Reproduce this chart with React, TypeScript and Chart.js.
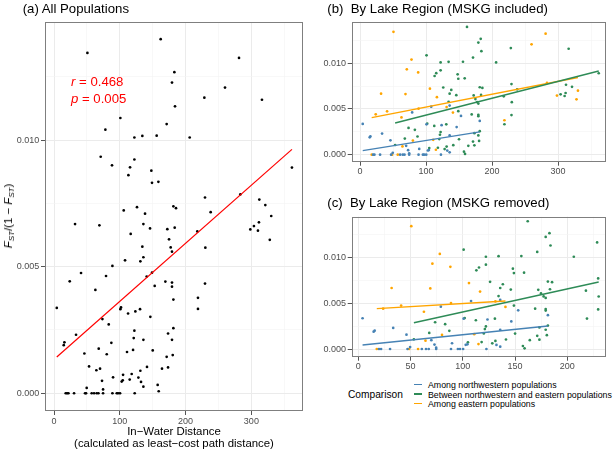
import React, { useEffect, useRef } from "react";
import { Chart, registerables } from "chart.js";
Chart.register(...registerables);

type Pt = [number, number];

// ---------------- data: [in-water distance, FST/(1-FST)] ----------------
const nwPoints: Pt[] = [
  [19.8, 0], [21.8, 0], [30.4, 0], [47.1, 0], [60.8, 0], [64.8, 0], [67.4, 0], [74.5, 0],
  [88.7, 0], [95.3, 0], [97.3, 0], [100.3, 0], [122.6, 0], [74.5, 0.00015], [49.6, 0.00021],
  [4.1, 0.00337], [14.7, 0.0019], [15.7, 0.00201], [33.4, 0.00231], [46.1, 0.00157],
  [69.9, 0.00097], [72.9, 0.00049], [79, 0.00463], [89.7, 0.00063], [100.8, 0.00332],
  [102.8, 0.00046], [104.4, 0.00051], [107.9, 0.00525], [123.6, 0.00323], [132.2, 0.00045],
  [135.8, 0.00026], [135.8, 0.00537], [135.8, 0.00211], [146.4, 0.00302], [153, 0.00424],
  [181.4, 0.0037],
];

const betweenPoints: Pt[] = [
  [53.2, 0.00106], [67.9, 0.00176], [73.5, 0.00293], [83.1, 0.00272], [87.1, 0.00199],
  [100.8, 0.01087], [101.8, 0.00339], [104.9, 0.00073], [112.5, 0.00315], [113, 0.00861],
  [115.5, 0.00892], [118, 0.00076], [120.1, 0.00171], [121.1, 0.00218], [122.1, 0.00247],
  [122.1, 0.00923], [122.1, 0.0101], [126.1, 0.00735], [128.2, 0.00062], [130.7, 0.00332],
  [131.2, 0.00089], [134.2, 0.01016], [134.2, 0.00579], [135.8, 0.00668], [138.3, 0.00709],
  [141.3, 0.00104], [145.9, 0.00651], [147.9, 0.00879], [148.9, 0.00831], [148.9, 0.00476],
  [150, 0.00169], [156, 0.01017], [157.5, 0.00033], [158.6, 0.00835], [159.1, 0.00008],
  [162.1, 0.01398], [164.1, 0.00097], [169.2, 0.00441], [171.2, 0.01063], [171.2, 0.00144],
  [172.2, 0.00648], [173.3, 0.00236], [173.3, 0.00102], [174.8, 0.00608], [177.3, 0.00576],
  [179.3, 0.00559], [179.3, 0.01227], [179.3, 0.00437], [179.3, 0.00421], [179.3, 0.00211],
  [180.4, 0.00151], [181.4, 0.00738], [181.4, 0.00257], [182.9, 0.01268], [183.4, 0.00654],
  [183.9, 0.01133], [185.4, 0.00731], [206.2, 0.0101], [217.8, 0.00639], [218.8, 0.00333],
  [228.5, 0.01167], [229.5, 0.00773], [229.5, 0.00433], [230, 0.00575],
];
// pairs involving MSKG (present only when MSKG is included)
const betweenMSKGPoints: Pt[] = [
  [238.1, 0.00715], [303.9, 0.0066], [310, 0.00642], [311.5, 0.00675], [312.1, 0.00765],
  [316.1, 0.01159], [321.2, 0.00743], [361.7, 0.00891],
];

const eastPoints: Pt[] = [
  [17.7, 0], [48.6, 0], [57.2, 0], [23.8, 0.00442], [31.9, 0.00668], [41, 0.00475],
  [50.7, 0.01344], [62.8, 0.00408], [64.3, 0.00091], [68.9, 0.00663], [70.9, 0.00934],
  [78, 0.01041], [80.1, 0.00154], [88.1, 0.009], [88.7, 0.00503], [105.9, 0.00722],
  [110.9, 0.00163], [115, 0.00054], [116.5, 0.00629], [131.2, 0.00521], [140.8, 0.00461],
];
const eastMSKGPoints: Pt[] = [
  [218.8, 0.00377], [259.9, 0.01207], [281.2, 0.01324], [283.2, 0.00785], [298.4, 0.00647],
  [330.2, 0.007], [328, 0.00606],
];

// fitted lines (endpoints)
const fitAll: Pt[] = [[4.1, 0.00143], [361.7, 0.00963]];
const fitNwIncl: Pt[] = [[4.1, 0.00045], [181.4, 0.0025]];
const fitBetweenIncl: Pt[] = [[53.2, 0.00347], [361.7, 0.00916]];
const fitEastIncl: Pt[] = [[17.7, 0.00405], [330.2, 0.00845]];
const fitNwRem: Pt[] = [[4.1, 0.00044], [181.4, 0.00252]];
const fitBetweenRem: Pt[] = [[53.2, 0.00288], [230, 0.00734]];
const fitEastRem: Pt[] = [[17.7, 0.00442], [140.8, 0.00526]];

const xTicksWide = [0, 50, 100, 150, 200, 250, 300, 350];
const xTicksNarrow = [0, 25, 50, 75, 100, 125, 150, 175, 200, 225];
const yTicks = [0, 0.0025, 0.005, 0.0075, 0.01, 0.0125];

const legendLabels = [
  "Among northwestern populations",
  "Between northwestern and eastern populations",
  "Among eastern populations",
];

// ---------------- styling ----------------
const FONT = "'Liberation Sans', Arial, Helvetica, sans-serif";
const C_NW = "#4682B4";
const C_BETWEEN = "#2E8B57";
const C_EAST = "#FFA500";

const xy = (arr: Pt[]) => arr.map(([x, y]) => ({ x, y }));
const isMajor = (v: number, step: number) => {
  const r = v / step;
  return Math.abs(r - Math.round(r)) < 1e-6;
};

const panelBorder = {
  id: "panelBorder",
  afterDraw(chart: any) {
    const { ctx, chartArea } = chart;
    const { left, top, right, bottom } = chartArea;
    ctx.save();
    ctx.strokeStyle = "#7F7F7F";
    ctx.lineWidth = 1;
    ctx.strokeRect(Math.round(left) + 0.5, Math.round(top) + 0.5, Math.round(right - left) - 1, Math.round(bottom - top) - 1);
    ctx.restore();
  },
};

function gridOpts(step: number) {
  const maj = (ctx: any) => !!ctx.tick && isMajor(ctx.tick.value, step);
  return {
    color: (ctx: any) => (maj(ctx) ? "#EBEBEB" : "#F3F3F3"),
    lineWidth: (ctx: any) => (maj(ctx) ? 1 : 0.6),
    tickColor: (ctx: any) => (maj(ctx) ? "#555555" : "rgba(0,0,0,0)"),
    tickLength: 4,
    tickWidth: 1,
  };
}

interface PanelCfg {
  xMin: number;
  xMax: number;
  xTicks: number[];
  xStep: number;
  yMin: number;
  yMax: number;
  yWidth: number;
  xHeight: number;
  xPad: number;
  padding: { top: number; right: number; bottom: number; left: number };
  xTitle?: string[];
}

function buildOptions(c: PanelCfg): any {
  return {
    responsive: false,
    animation: false,
    devicePixelRatio: 1,
    layout: { padding: c.padding },
    plugins: { legend: { display: false }, tooltip: { enabled: false }, title: { display: false } },
    scales: {
      x: {
        type: "linear",
        min: c.xMin,
        max: c.xMax,
        afterBuildTicks: (s: any) => {
          s.ticks = c.xTicks.map((v) => ({ value: v }));
        },
        afterFit: (s: any) => {
          s.height = c.xHeight;
        },
        ticks: {
          autoSkip: false,
          maxRotation: 0,
          minRotation: 0,
          padding: c.xPad,
          color: "#4D4D4D",
          font: { family: FONT, size: 9 },
          callback: (v: number) => (isMajor(v, c.xStep) ? String(v) : ""),
        },
        grid: gridOpts(c.xStep),
        border: { display: false },
        title: c.xTitle
          ? {
              display: true,
              text: c.xTitle,
              color: "#000",
              font: { family: FONT, size: 11.4, lineHeight: "12px" },
              padding: { top: 0, bottom: 1 },
            }
          : { display: false },
      },
      y: {
        type: "linear",
        min: c.yMin,
        max: c.yMax,
        afterBuildTicks: (s: any) => {
          s.ticks = yTicks.map((v) => ({ value: v }));
        },
        afterFit: (s: any) => {
          s.width = c.yWidth;
        },
        ticks: {
          autoSkip: false,
          padding: 1.7,
          color: "#4D4D4D",
          font: { family: FONT, size: 9 },
          callback: (v: number) => (isMajor(v, 0.005) ? v.toFixed(3) : ""),
        },
        grid: gridOpts(0.005),
        border: { display: false },
        title: { display: false },
      },
    },
  };
}

const lineDs = (pts: Pt[], color: string, w: number) => ({
  data: xy(pts),
  showLine: true,
  borderColor: color,
  borderWidth: w,
  pointRadius: 0,
  fill: false,
});
const pointDs = (pts: Pt[], color: string, r: number) => ({
  data: xy(pts),
  showLine: false,
  backgroundColor: color,
  borderWidth: 0,
  pointRadius: r,
});

export default function App() {
  const refA = useRef<HTMLCanvasElement>(null);
  const refB = useRef<HTMLCanvasElement>(null);
  const refC = useRef<HTMLCanvasElement>(null);

  useEffect(() => {
    const allPoints = [...nwPoints, ...betweenPoints, ...betweenMSKGPoints, ...eastPoints, ...eastMSKGPoints];
    const chartA = new Chart(refA.current!, {
      type: "scatter",
      data: {
        datasets: [lineDs(fitAll, "#FF0000", 1.2), pointDs(allPoints, "#000000", 1.35)] as any,
      },
      options: buildOptions({
        xMin: -13.8,
        xMax: 378.5,
        xTicks: xTicksWide,
        xStep: 100,
        yMin: -0.0007,
        yMax: 0.01466,
        yWidth: 45,
        xHeight: 40,
        xPad: 1.3,
        padding: { top: 22, right: 7, bottom: 0, left: 0 },
        xTitle: ["In\u2212Water Distance", "(calculated as least\u2212cost path distance)"],
      }),
      plugins: [panelBorder],
    });

    const chartB = new Chart(refB.current!, {
      type: "scatter",
      data: {
        datasets: [
          lineDs(fitNwIncl, C_NW, 1.4),
          lineDs(fitBetweenIncl, C_BETWEEN, 1.4),
          lineDs(fitEastIncl, C_EAST, 1.4),
          pointDs(nwPoints, C_NW, 1.35),
          pointDs([...betweenPoints, ...betweenMSKGPoints], C_BETWEEN, 1.35),
          pointDs([...eastPoints, ...eastMSKGPoints], C_EAST, 1.35),
        ] as any,
      },
      options: buildOptions({
        xMin: -12.6,
        xMax: 372.7,
        xTicks: xTicksWide,
        xStep: 100,
        yMin: -0.000766,
        yMax: 0.01455,
        yWidth: 41.7,
        xHeight: 13.3,
        xPad: 0,
        padding: { top: 21.7, right: 8, bottom: 0, left: 0 },
      }),
      plugins: [panelBorder],
    });

    const chartC = new Chart(refC.current!, {
      type: "scatter",
      data: {
        datasets: [
          lineDs(fitNwRem, C_NW, 1.4),
          lineDs(fitBetweenRem, C_BETWEEN, 1.4),
          lineDs(fitEastRem, C_EAST, 1.4),
          pointDs(nwPoints, C_NW, 1.35),
          pointDs(betweenPoints, C_BETWEEN, 1.35),
          pointDs(eastPoints, C_EAST, 1.35),
        ] as any,
      },
      options: buildOptions({
        xMin: -6.3,
        xMax: 237,
        xTicks: xTicksNarrow,
        xStep: 50,
        yMin: -0.00084,
        yMax: 0.01448,
        yWidth: 41.7,
        xHeight: 13.3,
        xPad: 0,
        padding: { top: 21.7, right: 8, bottom: 0, left: 0 },
      }),
      plugins: [panelBorder],
    });

    return () => {
      chartA.destroy();
      chartB.destroy();
      chartC.destroy();
    };
  }, []);

  const txt: React.CSSProperties = { position: "absolute", fontFamily: FONT, color: "#000", whiteSpace: "pre" };
  const subStyle: React.CSSProperties = { fontSize: 8, fontStyle: "italic", verticalAlign: "-2px", lineHeight: 0 };
  const keyColors = [C_NW, C_BETWEEN, C_EAST];
  const keyCenters = [384.5, 394, 403.5];
  const labelTops = [380, 390, 399.3];

  return (
    <div style={{ position: "absolute", left: 0, top: 0, width: 614, height: 451, background: "#fff", overflow: "hidden" }}>
      <canvas ref={refA} width={310} height={451} style={{ position: "absolute", left: 0, top: 0 }} />
      <canvas ref={refB} width={304} height={175} style={{ position: "absolute", left: 310, top: 0 }} />
      <canvas ref={refC} width={304} height={175} style={{ position: "absolute", left: 310, top: 195 }} />

      <div style={{ ...txt, left: 22.7, top: 1, fontSize: 13.2, lineHeight: "16px" }}>(a) All Populations</div>
      <div style={{ ...txt, left: 327.3, top: 1, fontSize: 13.2, lineHeight: "16px" }}>(b)  By Lake Region (MSKG included)</div>
      <div style={{ ...txt, left: 327.3, top: 195.3, fontSize: 13.2, lineHeight: "16px" }}>(c)  By Lake Region (MSKG removed)</div>

      <div style={{ ...txt, left: 71, top: 74, fontSize: 13.2, lineHeight: "16px", color: "#FF0000" }}>
        <i>r</i> = 0.468
      </div>
      <div style={{ ...txt, left: 71, top: 91, fontSize: 13.2, lineHeight: "16px", color: "#FF0000" }}>
        <i>p</i> = 0.005
      </div>

      <div
        style={{
          ...txt,
          left: 8,
          top: 216,
          fontSize: 11.4,
          lineHeight: "14px",
          transform: "translate(-50%, -50%) rotate(-90deg)",
        }}
      >
        <i>F</i>
        <sub style={subStyle}>ST</sub>/(1 − <i>F</i>
        <sub style={subStyle}>ST</sub>)
      </div>

      <div style={{ ...txt, left: 348, top: 389, fontSize: 10.2, lineHeight: "12px" }}>Comparison</div>
      {legendLabels.map((label, i) => (
        <React.Fragment key={label}>
          <div
            style={{
              position: "absolute",
              left: 414,
              top: keyCenters[i] - 0.75,
              width: 8,
              height: 1.5,
              background: keyColors[i],
            }}
          />
          <div style={{ ...txt, left: 428, top: labelTops[i], fontSize: 8.8, lineHeight: "10px" }}>{label}</div>
        </React.Fragment>
      ))}
    </div>
  );
}
